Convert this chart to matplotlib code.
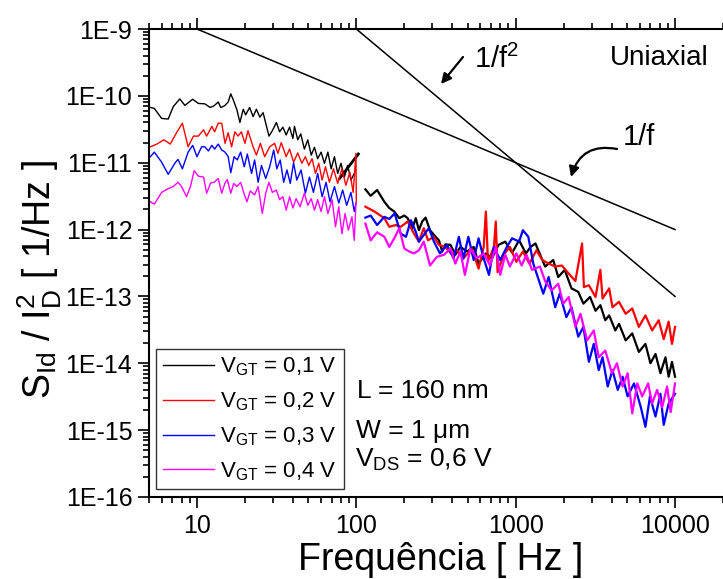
import matplotlib
matplotlib.use("Agg")
import matplotlib.pyplot as plt
from matplotlib.ticker import FixedLocator, LogLocator, NullFormatter

plt.rcParams['font.family'] = ['Liberation Sans', 'DejaVu Sans']
plt.rcParams['mathtext.fontset'] = 'custom'
plt.rcParams['mathtext.rm'] = 'Liberation Sans'
plt.rcParams['mathtext.it'] = 'Liberation Sans:italic'

# ---- data (Hz, 1/Hz) ----
# low band (5 - 100 Hz)
black_lo_f = [5.1, 5.4, 6.0, 6.6, 7.1, 7.8, 8.4, 9.4, 10.2, 11.2,
              12.1, 12.8, 13.6, 14.1, 14.9, 15.7, 16.3, 16.9, 17.8, 18.6,
              19.5, 20.2, 21.4, 22.5, 23.6, 24.8, 26.0, 28.3, 29.7, 31.5,
              33.0, 34.6, 36.3, 38.1, 40.0, 40.9, 42.9, 44.8, 47.2, 49.6,
              52.1, 54.6, 57.2, 60.1, 63.1, 66.3, 69.5, 72.9, 76.4, 80.1,
              84.2, 88.2, 92.5, 97.1]
black_lo_s = [6.7e-11, 6.5e-11, 4.6e-11, 4.5e-11, 6.9e-11, 9.0e-11, 7.2e-11, 8.9e-11, 7.7e-11, 7.6e-11,
              6.7e-11, 7.1e-11, 8.1e-11, 6.7e-11, 7.1e-11, 8.1e-11, 1.07e-10, 8.7e-11, 6.2e-11, 4.0e-11,
              6.3e-11, 5.2e-11, 6.7e-11, 4.9e-11, 6.3e-11, 4.8e-11, 5.6e-11, 2.5e-11, 3.0e-11, 4.0e-11,
              2.9e-11, 3.4e-11, 2.6e-11, 3.4e-11, 2.3e-11, 3.5e-11, 2.2e-11, 2.7e-11, 1.6e-11, 2.2e-11,
              1.3e-11, 1.7e-11, 1.15e-11, 1.44e-11, 9.8e-12, 1.44e-11, 8.1e-12, 1.23e-11, 6.9e-12, 9.8e-12,
              6.1e-12, 9.1e-12, 5.5e-12, 6.9e-12]
black_step_f = [78.5, 103]
black_step_s = [5.8e-12, 1.35e-11]

red_lo_f = [5.1, 5.6, 6.2, 6.8, 7.5, 8.1, 8.8, 9.5, 10.2, 11.0,
            11.5, 12.4, 12.9, 13.6, 14.3, 15.0, 15.7, 16.5, 17.3, 18.1,
            19.0, 20.0, 20.9, 22.5, 23.6, 25.0, 26.6, 28.6, 30.7, 32.2,
            33.8, 36.3, 38.1, 40.4, 42.9, 45.5, 47.9, 50.3, 52.8, 55.4,
            58.1, 61.0, 64.0, 67.8, 71.9, 76.4, 81.2, 86.0, 91.1, 95.5,
            99.5, 100]
red_lo_s = [1.73e-11, 1.9e-11, 2.2e-11, 1.9e-11, 2.9e-11, 3.9e-11, 1.73e-11, 2.5e-11, 2.5e-11, 3.1e-11,
            2.5e-11, 3.5e-11, 2.9e-11, 3.9e-11, 3.9e-11, 1.95e-11, 2.8e-11, 1.73e-11, 2.9e-11, 2.5e-11,
            2.9e-11, 1.95e-11, 3.0e-11, 1.73e-11, 1.3e-11, 1.95e-11, 1.23e-11, 1.73e-11, 1.95e-11, 1.38e-11,
            2.0e-11, 1.23e-11, 1.6e-11, 1.02e-11, 1.4e-11, 9.8e-12, 1.23e-11, 9.1e-12, 1.15e-11, 6.9e-12,
            9.8e-12, 5.5e-12, 8.7e-12, 5.1e-12, 8.1e-12, 4.9e-12, 8.1e-12, 4.6e-12, 7.2e-12, 3.6e-12,
            1.38e-11, 2.6e-12]

blue_lo_f = [5.1, 5.4, 6.0, 6.6, 7.3, 7.6, 8.1, 8.8, 9.4, 10.0,
             10.7, 11.2, 11.8, 12.4, 12.9, 13.6, 14.3, 15.0, 15.7, 16.3,
             17.1, 17.9, 18.8, 19.8, 20.7, 22.0, 23.0, 24.2, 25.4, 27.0,
             28.6, 30.3, 31.7, 33.3, 35.0, 36.7, 38.5, 40.4, 42.3, 45.0,
             47.9, 50.8, 53.8, 57.2, 61.0, 64.6, 68.4, 72.9, 77.6, 82.1,
             87.0, 92.5, 97.1, 99.5]
blue_lo_s = [1.23e-11, 1.44e-11, 1.02e-11, 6.7e-12, 1.0e-11, 1.12e-11, 8.1e-12, 1.44e-11, 1.82e-11, 1.23e-11,
             1.73e-11, 1.73e-11, 1.5e-11, 1.82e-11, 1.6e-11, 1.9e-11, 1.55e-11, 1.44e-11, 1.23e-11, 7.1e-12,
             1.23e-11, 1.1e-11, 1.44e-11, 8.7e-12, 1.35e-11, 6.9e-12, 1.1e-11, 5.1e-12, 9.1e-12, 5.8e-12,
             8.7e-12, 1.55e-11, 8.1e-12, 1.1e-11, 5.1e-12, 7.8e-12, 4.9e-12, 1.0e-11, 5.5e-12, 7.8e-12,
             3.5e-12, 6.1e-12, 3.6e-12, 6.9e-12, 3.1e-12, 5.1e-12, 2.6e-12, 4.4e-12, 2.5e-12, 3.9e-12,
             2.3e-12, 3.6e-12, 1.86e-12, 2.5e-12]

mag_lo_f = [5.1, 5.4, 6.0, 6.6, 7.1, 7.6, 8.0, 8.6, 9.1, 9.6,
            10.2, 11.0, 11.5, 12.2, 12.8, 13.6, 14.3, 15.0, 15.5, 16.3,
            17.0, 17.8, 18.8, 19.7, 20.6, 21.6, 23.0, 24.2, 25.7, 27.0,
            28.3, 29.7, 31.5, 33.0, 34.6, 36.3, 38.1, 40.0, 41.9, 44.4,
            47.2, 49.6, 52.1, 54.6, 57.2, 60.1, 63.1, 66.3, 70.5, 74.0,
            77.6, 81.2, 85.0, 89.1, 93.9, 97.1, 99.5]
mag_lo_s = [2.6e-12, 2.4e-12, 3.6e-12, 4.1e-12, 4.4e-12, 5.1e-12, 4.4e-12, 3.1e-12, 4.4e-12, 7.6e-12,
            6.3e-12, 6.1e-12, 3.5e-12, 5.0e-12, 5.1e-12, 5.8e-12, 3.5e-12, 5.0e-12, 5.6e-12, 3.5e-12,
            4.9e-12, 4.4e-12, 5.1e-12, 3.5e-12, 2.6e-12, 3.8e-12, 3.3e-12, 4.4e-12, 1.74e-12, 3.5e-12,
            5.1e-12, 3.6e-12, 3.9e-12, 2.8e-12, 3.1e-12, 1.95e-12, 3.1e-12, 2.1e-12, 2.9e-12, 2.2e-12,
            3.5e-12, 2.3e-12, 2.9e-12, 1.95e-12, 2.8e-12, 1.86e-12, 3.1e-12, 1.74e-12, 2.8e-12, 1.1e-12,
            2.2e-12, 8.7e-13, 1.74e-12, 9.8e-13, 1.55e-12, 6.9e-13, 2.5e-12]

# high band (110 Hz - 10 kHz)
black_hi_f = [114, 123, 135, 150, 161, 173, 186, 200, 210, 225,
              236, 247, 259, 272, 290, 307, 330, 346, 362, 390,
              418, 450, 495, 545, 585, 650, 710, 780, 860, 950,
              1050, 1160, 1240, 1330, 1530, 1720, 1850, 2030, 2240, 2470,
              2660, 2930, 3170, 3400, 3650, 3860, 4220, 4450, 4900, 5390,
              5930, 6520, 7010, 7540, 8100, 8710, 9120, 9570, 10000]
black_hi_s = [4.0e-12, 3.2e-12, 3.9e-12, 2.6e-12, 2.1e-12, 1.86e-12, 1.48e-12, 1.62e-12, 1.48e-12, 1.05e-12,
              1.48e-12, 9.8e-13, 1.32e-12, 1.51e-12, 9.8e-13, 8.3e-13, 6.9e-13, 4.7e-13, 6.0e-13, 5.9e-13,
              4.2e-13, 5.5e-13, 4.7e-13, 5.5e-13, 3.1e-13, 4.4e-13, 3.7e-13, 5.9e-13, 6.6e-13, 4.5e-13,
              6.9e-13, 4.4e-13, 5.5e-13, 6.2e-13, 2.8e-13, 3.5e-13, 1.95e-13, 2.5e-13, 1.32e-13, 1.17e-13,
              7.8e-14, 9.8e-14, 6.1e-14, 7.4e-14, 4.4e-14, 5.2e-14, 3.1e-14, 3.9e-14, 2.2e-14, 2.8e-14,
              1.48e-14, 1.95e-14, 1.0e-14, 1.38e-14, 7.1e-15, 1.23e-14, 6.3e-15, 1.05e-14, 6.3e-15]

red_hi_f = [114, 130, 150, 161, 177, 190, 210, 230, 247, 265,
            282, 307, 330, 362, 400, 428, 470, 530, 585, 630,
            650, 670, 730, 750, 770, 840, 920, 1010, 1110, 1220,
            1350, 1470, 1610, 1770, 1950, 2150, 2370, 2610, 2680, 2880,
            3170, 3400, 3510, 3860, 4050, 4450, 4900, 5390, 5930, 6520,
            7180, 7900, 8490, 9120, 9570, 10000]
red_hi_s = [2.2e-12, 1.86e-12, 1.48e-12, 1.1e-12, 1.17e-12, 1.1e-12, 1.32e-12, 8.7e-13, 6.6e-13, 1.05e-12,
            6.9e-13, 7.8e-13, 5.9e-13, 5.5e-13, 4.2e-13, 4.9e-13, 3.7e-13, 5.2e-13, 2.6e-13, 5.5e-13,
            1.86e-12, 3.3e-13, 5.5e-13, 1.32e-12, 2.3e-13, 4.2e-13, 5.5e-13, 3.3e-13, 4.7e-13, 3.1e-13,
            4.9e-13, 3.5e-13, 3.1e-13, 2.8e-13, 2.9e-13, 2.2e-13, 1.7e-13, 6.2e-13, 1.38e-13, 1.47e-13,
            9.8e-14, 2.5e-13, 9.3e-14, 1.32e-13, 6.9e-14, 8.3e-14, 5.5e-14, 6.6e-14, 3.5e-14, 5.2e-14,
            3.1e-14, 4.4e-14, 2.3e-14, 4.2e-14, 1.95e-14, 3.5e-14]

blue_hi_f = [114, 123, 135, 150, 161, 174, 190, 205, 220, 236,
             247, 265, 285, 307, 335, 370, 408, 440, 470, 505,
             545, 585, 630, 680, 730, 800, 880, 950, 1050, 1110,
             1200, 1290, 1490, 1610, 1770, 1890, 2080, 2240, 2470, 2660,
             2880, 3090, 3320, 3510, 3780, 4050, 4370, 4690, 5040, 5530,
             6100, 6520, 6960, 7540, 8100, 8490, 9120, 10000]
blue_hi_s = [1.51e-12, 1.62e-12, 1.17e-12, 1.55e-12, 1.44e-12, 1.74e-12, 8.7e-13, 7.8e-13, 1.38e-12, 9.3e-13,
             6.6e-13, 8.3e-13, 1.05e-12, 6.6e-13, 4.4e-13, 5.9e-13, 3.7e-13, 7.8e-13, 3.7e-13, 7.8e-13,
             3.5e-13, 7.4e-13, 3.7e-13, 2.1e-13, 5.5e-13, 3.5e-13, 5.5e-13, 7.4e-13, 6.6e-13, 9.8e-13,
             7.8e-13, 3.1e-13, 1.1e-13, 1.95e-13, 6.9e-14, 1.1e-13, 4.9e-14, 6.9e-14, 2.5e-14, 3.5e-14,
             1.05e-14, 1.95e-14, 7.9e-15, 1.23e-14, 4.5e-15, 7.9e-15, 4.0e-15, 6.3e-15, 3.2e-15, 5.0e-15,
             2.2e-15, 1.12e-15, 3.2e-15, 1.6e-15, 3.5e-15, 1.2e-15, 2.5e-15, 3.5e-15]

mag_hi_f = [114, 123, 135, 150, 161, 173, 186, 200, 215, 230,
            247, 265, 290, 320, 355, 390, 418, 450, 480, 520,
            570, 630, 690, 750, 800, 860, 920, 1010, 1090, 1170,
            1265, 1420, 1530, 1680, 1850, 1990, 2150, 2370, 2550, 2810,
            3090, 3320, 3650, 4020, 4320, 4690, 5040, 5390, 5800, 6220,
            6780, 7180, 7720, 8300, 8920, 9390, 10000]
mag_hi_s = [1.23e-12, 6.9e-13, 9.1e-13, 7.8e-13, 5.5e-13, 7.4e-13, 1.05e-12, 5.2e-13, 4.7e-13, 4.4e-13,
            4.9e-13, 6.6e-13, 2.9e-13, 3.9e-13, 4.2e-13, 5.2e-13, 3.1e-13, 4.7e-13, 2.1e-13, 5.2e-13,
            3.7e-13, 4.4e-13, 2.9e-13, 5.5e-13, 2.1e-13, 4.2e-13, 2.8e-13, 4.4e-13, 2.9e-13, 4.2e-13,
            2.5e-13, 2.8e-13, 1.7e-13, 1.23e-13, 1.55e-13, 7.8e-14, 9.8e-14, 3.5e-14, 5.5e-14, 2.2e-14,
            3.1e-14, 1.23e-14, 1.55e-14, 7.1e-15, 1.0e-14, 4.5e-15, 7.1e-15, 1.78e-15, 5.0e-15, 3.2e-15,
            5.0e-15, 2.5e-15, 4.0e-15, 2.2e-15, 4.5e-15, 1.86e-15, 5.0e-15]

# guide lines
one_f_x = [10, 10000]
one_f_y = [1e-9, 1e-12]
one_f2_x = [100, 10000]
one_f2_y = [1e-9, 1e-13]

labels = [r'V$_{\mathregular{GT}}$ = 0,1 V', r'V$_{\mathregular{GT}}$ = 0,2 V',
          r'V$_{\mathregular{GT}}$ = 0,3 V', r'V$_{\mathregular{GT}}$ = 0,4 V']
colors = ['black', 'red', 'blue', 'magenta']
y_decades = [-16, -15, -14, -13, -12, -11, -10, -9]
x_major = [10, 100, 1000, 10000]

W, H = 723, 579


def fx(px):
    return px / W


def fy(py):
    return 1 - py / H


fig = plt.figure(figsize=(W / 100, H / 100), dpi=100)
fig.patch.set_facecolor('white')
ax = fig.add_axes([fx(149), fy(497), fx(723 - 149), (497 - 29) / H])

series = [(black_lo_f, black_lo_s, black_hi_f, black_hi_s),
          (red_lo_f, red_lo_s, red_hi_f, red_hi_s),
          (blue_lo_f, blue_lo_s, blue_hi_f, blue_hi_s),
          (mag_lo_f, mag_lo_s, mag_hi_f, mag_hi_s)]
handles = []
for (lf, ls, hf, hs), c, lab in zip(series, colors, labels):
    h, = ax.plot(lf, ls, color=c, lw=1.0, label=lab)
    ax.plot(hf, hs, color=c, lw=1.6)
    handles.append(h)
    if c == 'black':
        ax.plot(black_step_f, black_step_s, color='black', lw=2.0)

ax.plot(one_f_x, one_f_y, color='black', lw=1.1)
ax.plot(one_f2_x, one_f2_y, color='black', lw=1.1)

ax.set_xscale('log')
ax.set_yscale('log')
ax.set_xlim(5, 2e4)
ax.set_ylim(1e-16, 1e-9)

ax.xaxis.set_major_locator(FixedLocator(x_major))
ax.set_xticklabels([str(v) for v in x_major])
ax.xaxis.set_minor_locator(LogLocator(base=10, subs=range(2, 10)))
ax.xaxis.set_minor_formatter(NullFormatter())
ax.yaxis.set_major_locator(FixedLocator([10.0 ** e for e in y_decades]))
ax.set_yticklabels(['1E%d' % e for e in y_decades])
ax.yaxis.set_minor_locator(LogLocator(base=10, subs=range(2, 10), numticks=20))
ax.yaxis.set_minor_formatter(NullFormatter())

ax.tick_params(which='both', direction='out', width=1.2, top=True, right=False,
               labelsize=18, colors='black')
ax.tick_params(which='major', length=8, pad=4)
ax.tick_params(which='minor', length=4)
ax.spines['right'].set_visible(False)
for s in ['left', 'bottom', 'top']:
    ax.spines[s].set_linewidth(1.5)

fig.text(fx(441), fy(560), 'Frequência [ Hz ]', fontsize=27, ha='center', va='center')
fig.text(fx(40), fy(280),
         r'S$_{\mathregular{Id}}$ / I$_{\mathregular{D}}^{\mathregular{2}}$ [ 1/Hz ]',
         fontsize=27, rotation=90, ha='center', va='center')

fig.text(fx(610), fy(65), 'Uniaxial', fontsize=20, va='baseline')
fig.text(fx(474), fy(68), r'1/f$^{\mathregular{2}}$', fontsize=21, va='baseline')
fig.text(fx(623), fy(145), '1/f', fontsize=21, va='baseline')
fig.text(fx(357), fy(398), 'L = 160 nm', fontsize=19, va='baseline')
fig.text(fx(356), fy(438), 'W = 1 \u03bcm', fontsize=19, va='baseline')
fig.text(fx(355), fy(467), r'V$_{\mathregular{DS}}$ = 0,6 V', fontsize=19, va='baseline')

ax.annotate('', xy=(fx(441), fy(84)), xycoords='figure fraction',
            xytext=(fx(463), fy(57)), textcoords='figure fraction',
            arrowprops=dict(arrowstyle='-|>,head_length=0.6,head_width=0.3', color='black', lw=1.6,
                            shrinkA=0, shrinkB=0))
ax.annotate('', xy=(fx(571), fy(177)), xycoords='figure fraction',
            xytext=(fx(617), fy(149)), textcoords='figure fraction',
            arrowprops=dict(arrowstyle='-|>,head_length=0.6,head_width=0.3', color='black', lw=1.6,
                            shrinkA=0, shrinkB=0, connectionstyle='arc3,rad=0.45'))

leg = ax.legend(handles=handles, loc='upper left', bbox_to_anchor=(fx(156), fy(349)),
                bbox_transform=fig.transFigure, borderaxespad=0, fontsize=16,
                frameon=True, fancybox=False, edgecolor='black', handlelength=2.3,
                handletextpad=0.3, labelspacing=0.55, borderpad=0.3)
leg.get_frame().set_linewidth(1.0)
for l in leg.get_lines():
    l.set_linewidth(1.0)

fig.savefig('out.png', dpi=100, facecolor='white')
